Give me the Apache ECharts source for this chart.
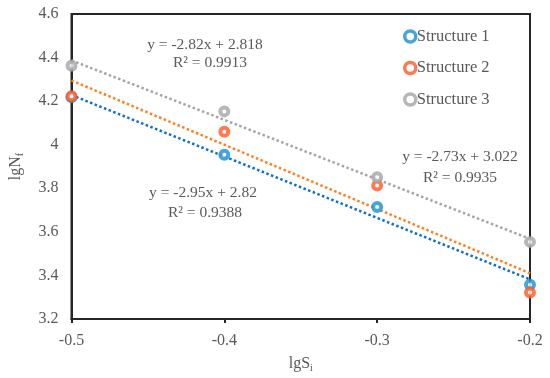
<!DOCTYPE html>
<html><head><meta charset="utf-8">
<script src="https://cdn.jsdelivr.net/npm/echarts@6/dist/echarts.min.js"></script>
<style>html,body{margin:0;padding:0;background:#fff}#c{width:550px;height:378px}</style>
</head><body><div id="c"></div>
<script>
const xValues = [-0.5, -0.4, -0.3, -0.2];
const structure1 = [4.218, 3.954, 3.714, 3.357];
const structure2 = [4.223, 4.059, 3.813, 3.322];
const structure3 = [4.362, 4.153, 3.851, 3.554];
const trendX = [-0.5, -0.2];
const trend1 = [4.228, 3.382];
const trend2 = [4.295, 3.410];
const trend3 = [4.387, 3.568];
const seriesNames = ['Structure 1', 'Structure 2', 'Structure 3'];
const markerColors = ['#1591d0', '#ff5725', '#a5a5a5'];
const lineColors = ['#0a6fd0', '#ff7f1e', '#a5a5a5'];
const eqTexts = [
  ['y = -2.82x + 2.818', 'R² = 0.9913'],
  ['y = -2.73x + 3.022', 'R² = 0.9935'],
  ['y = -2.95x + 2.82', 'R² = 0.9388']
];
const FONT = '"Liberation Serif", serif';
const TXT = '#595959';
const pairs = (xs, ys) => xs.map((x, i) => [x, ys[i]]);
const chart = echarts.init(document.getElementById('c'), null, {renderer: 'canvas'});
const scatterData = [structure1, structure2, structure3];
const trendData = [trend1, trend2, trend3];
const series = [];
trendData.forEach((t, i) => {
  series.push({
    type: 'line', name: 'trend' + i, data: pairs(trendX, t), showSymbol: false,
    symbol: 'none', silent: true, z: 2,
    lineStyle: {color: lineColors[i], width: 2.5, type: [2.5, 2.5]}
  });
});
scatterData.forEach((d, i) => {
  series.push({
    type: 'scatter', name: seriesNames[i], data: pairs(xValues, d),
    symbol: 'circle', symbolSize: 8, z: 3,
    itemStyle: {color: '#ffffff', borderColor: markerColors[i], borderWidth: 4}
  });
});
const eqPos = [[205, 45, 210, 63], [460, 157, 460, 178], [203, 193, 205, 213]];
const graphic = [];
eqTexts.forEach((t, i) => {
  const p = eqPos[i];
  graphic.push({type: 'text', x: p[0], y: p[1], z: 10, style: {text: t[0], font: '15.5px ' + FONT, fill: TXT, textAlign: 'center', textVerticalAlign: 'middle'}});
  graphic.push({type: 'text', x: p[2], y: p[3], z: 10, style: {text: t[1], font: '15.5px ' + FONT, fill: TXT, textAlign: 'center', textVerticalAlign: 'middle'}});
});
const nameRich = {
  a: {fontFamily: FONT, fontSize: 16, color: TXT},
  s: {fontFamily: FONT, fontSize: 10, color: TXT, verticalAlign: 'bottom', padding: [9, 0, 0, 0]}
};
chart.setOption({
  animation: false,
  grid: {left: 66, right: 20, top: 14, bottom: 56, show: true, borderColor: '#262626', borderWidth: 2},
  legend: {
    data: seriesNames.map((n, i) => ({name: n, icon: 'circle', itemStyle: {color: '#ffffff', borderColor: markerColors[i], borderWidth: 3.5}})),
    orient: 'vertical', left: 398, top: 23, itemGap: 14.5,
    itemWidth: 11, itemHeight: 11,
    textStyle: {fontFamily: FONT, fontSize: 16.5, color: TXT, padding: [0, 0, 0, -4]}
  },
  xAxis: {
    type: 'value', min: -0.5, max: -0.2, interval: 0.1,
    name: '{a|lgS}{s|i}', nameLocation: 'middle', nameGap: 35,
    nameTextStyle: {rich: nameRich},
    axisLine: {show: true, onZero: false, lineStyle: {color: '#262626', width: 2}},
    axisTick: {show: true, length: 4, lineStyle: {color: '#262626', width: 2}},
    axisLabel: {fontFamily: FONT, fontSize: 16, color: TXT, margin: 14, formatter: v => (Math.round(v * 10) / 10).toString()},
    splitLine: {show: false}
  },
  yAxis: {
    type: 'value', min: 3.2, max: 4.6, interval: 0.2,
    name: '{a|lgN}{s|f}', nameLocation: 'middle', nameGap: 46, nameRotate: 90,
    nameTextStyle: {rich: nameRich},
    axisLine: {show: true, onZero: false, lineStyle: {color: '#262626', width: 2}},
    axisTick: {show: false},
    axisLabel: {fontFamily: FONT, fontSize: 16, color: TXT, margin: 13, formatter: v => (Math.round(v * 10) / 10).toString()},
    splitLine: {show: false}
  },
  graphic: graphic,
  series: series
});
</script></body></html>
